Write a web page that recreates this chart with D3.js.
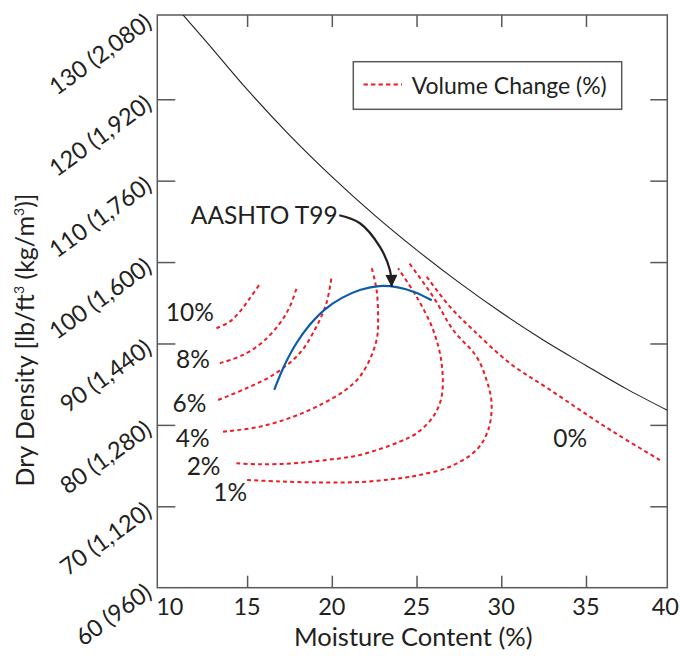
<!DOCTYPE html>
<html>
<head>
<meta charset="utf-8">
<script src="https://cdn.jsdelivr.net/npm/d3@7"></script>
<style>
  body { margin: 0; background: #fff; }
  svg text { font-family: Lato, "Open Sans", sans-serif; fill: #231f20; }
</style>
</head>
<body>
<svg id="chart" width="680" height="656"></svg>
<script>
// ---- axis ticks and labels ----
const moistureTicks = [10, 15, 20, 25, 30, 35, 40];
const densityTicks = [60, 70, 80, 90, 100, 110, 120, 130];
const densityTickLabels = ["60 (960)", "70 (1,120)", "80 (1,280)", "90 (1,440)",
  "100 (1,600)", "110 (1,760)", "120 (1,920)", "130 (2,080)"];

// ---- zero-air-voids line (moisture %, dry density lb/ft3) ----
const zavMoisture = [11.2, 12.5, 15, 17.5, 20, 22.5, 25, 27.5, 30, 32.5, 35, 37.5, 39.8];
const zavDensity  = [130.4, 127.3, 121.2, 115.6, 110.5, 105.8, 101.5, 97.5, 93.8, 90.4, 87.3, 84.3, 81.8];

// ---- AASHTO T99 compaction curve ----
const t99Moisture = [16.6, 17.2, 17.9, 18.7, 19.6, 20.6, 21.7, 22.8, 23.9, 24.9, 25.9];
const t99Density  = [84.3, 87.3, 90.0, 92.3, 94.2, 95.6, 96.6, 97.05, 96.9, 96.3, 95.3];

// ---- volume change contours: [moisture %, dry density] ----
const vc10 = [[13.19, 91.87], [13.98, 92.68], [14.57, 93.91], [15.16, 95.55], [15.71, 97.18]];
const vc8  = [[13.39, 87.57], [14.76, 88.59], [15.94, 90.22], [16.93, 92.48], [17.52, 94.52], [17.95, 96.98]];
const vc6  = [[13.29, 83.06], [14.96, 84.5], [16.53, 86.13], [18.10, 88.8], [19.09, 92.06], [19.68, 94.94], [19.98, 98.1]];
const vc4  = [[13.58, 79.16], [15.75, 79.78], [17.72, 81.0], [19.29, 82.44], [20.67, 84.08], [21.65, 85.92],
              [22.36, 88.6], [22.69, 91.0], [22.73, 93.3], [22.64, 96.6], [22.34, 99.4]];
const vc2  = [[14.37, 75.28], [15.75, 75.16], [17.72, 75.28], [19.69, 75.69], [21.65, 76.3], [24.01, 77.94],
              [25.0, 78.97], [25.98, 81.01], [26.48, 83.46], [26.48, 87.57], [25.98, 91.66], [25.0, 95.75], [23.91, 99.24]];
const vc1  = [[15.0, 73.23], [16.93, 73.05], [19.29, 72.92], [21.65, 72.98], [24.01, 73.44], [25.19, 73.85],
              [26.97, 74.86], [28.54, 76.92], [29.23, 79.37], [29.43, 82.65], [29.13, 85.52], [28.54, 88.38],
              [27.16, 91.66], [25.98, 95.75], [24.5, 100.05]];
const vc0  = [[25.6, 98.2], [26.97, 94.52], [28.34, 91.66], [30.51, 87.57], [32.87, 84.32], [35.82, 80.2],
              [37.4, 78.14], [39.36, 75.68]];

const contourNames = ["10%", "8%", "6%", "4%", "2%", "1%", "0%"];
const contours = [vc10, vc8, vc6, vc4, vc2, vc1, vc0];
// label anchor for each contour (moisture %, dry density)
const contourLabelAt = [[11.62, 92.78], [11.80, 86.93], [11.60, 81.6], [11.79, 77.3], [12.43, 73.84], [14.0, 70.6], [34.07, 77.3]];

// annotation arrow path (moisture %, dry density)
const arrowPath = [[20.44, 105.75], [21.66, 104.77], [22.84, 101.86], [23.43, 99.0], [23.53, 96.95]];
const aashtoLabelAt = [11.68, 104.7];

// ---- layout ----
const frame = { left: 157.3, right: 667.3, top: 15, bottom: 587.7 };
const ink = "#231f20", frameColor = "#58595b", red = "#ed1c24", blue = "#0b5cad";

const svg = d3.select("#chart");

const x = d3.scaleLinear().domain([9.7, 39.8]).range([frame.left, frame.right]);
const y = d3.scaleLinear().domain([60, 130.35]).range([frame.bottom, frame.top]);

svg.append("defs").append("clipPath").attr("id", "plot-clip")
  .append("rect")
  .attr("x", frame.left).attr("y", frame.top)
  .attr("width", frame.right - frame.left).attr("height", frame.bottom - frame.top);

// ticks (pointing inward on all four sides)
function styleAxis(g) {
  g.select(".domain").remove();
  g.selectAll(".tick line").attr("stroke", frameColor).attr("stroke-width", 1.5);
  g.selectAll(".tick text").remove();
}
const innerX = moistureTicks.slice(1, -1);
const innerY = densityTicks.slice(1, -1);
svg.append("g").attr("transform", `translate(0,${frame.bottom})`)
  .call(d3.axisBottom(x).tickValues(innerX).tickSize(-12)).call(styleAxis);
svg.append("g").attr("transform", `translate(0,${frame.top})`)
  .call(d3.axisTop(x).tickValues(innerX).tickSize(-12)).call(styleAxis);
svg.append("g").attr("transform", `translate(${frame.left},0)`)
  .call(d3.axisLeft(y).tickValues(innerY).tickSize(-18)).call(styleAxis);
svg.append("g").attr("transform", `translate(${frame.right},0)`)
  .call(d3.axisRight(y).tickValues(innerY).tickSize(-17)).call(styleAxis);

// frame
svg.append("rect")
  .attr("x", frame.left).attr("y", frame.top)
  .attr("width", frame.right - frame.left).attr("height", frame.bottom - frame.top)
  .attr("fill", "none").attr("stroke", frameColor).attr("stroke-width", 1.5);

// x tick labels; the end labels are pulled inside the frame
svg.append("g").selectAll("text").data(moistureTicks).join("text")
  .attr("x", d => {
    const px = x(d);
    if (d === moistureTicks[0]) return Math.max(px, frame.left + 12.5);
    if (d === moistureTicks[moistureTicks.length - 1]) return Math.min(px, frame.right - 2);
    return px;
  })
  .attr("y", frame.bottom + 27)
  .attr("text-anchor", "middle")
  .attr("font-size", 23.5)
  .text(d => d);

// y tick labels, slanted
svg.append("g").selectAll("text").data(densityTicks).join("text")
  .attr("transform", d => `translate(${frame.left - 4},${y(d) + 8}) rotate(-36)`)
  .attr("text-anchor", "end")
  .attr("font-size", 23.5)
  .text((d, i) => densityTickLabels[i]);

// axis titles
svg.append("text")
  .attr("x", (frame.left + frame.right) / 2 + 1).attr("y", 646)
  .attr("text-anchor", "middle").attr("font-size", 25.5)
  .text("Moisture Content (%)");

const yTitle = svg.append("text")
  .attr("transform", `translate(34,${340}) rotate(-90)`)
  .attr("text-anchor", "middle").attr("font-size", 25);
yTitle.append("tspan").text("Dry Density [lb/ft");
yTitle.append("tspan").attr("font-size", 14).attr("dy", -10).text("3");
yTitle.append("tspan").attr("dy", 10).text(" (kg/m");
yTitle.append("tspan").attr("font-size", 14).attr("dy", -10).text("3");
yTitle.append("tspan").attr("dy", 10).text(")]");

// plotted lines
const plot = svg.append("g").attr("clip-path", "url(#plot-clip)");

const zavLine = d3.line().x(d => x(d[0])).y(d => y(d[1])).curve(d3.curveMonotoneX);
plot.append("path")
  .datum(zavMoisture.map((m, i) => [m, zavDensity[i]]))
  .attr("d", zavLine)
  .attr("fill", "none").attr("stroke", ink).attr("stroke-width", 1.1);

const contourLine = d3.line().x(d => x(d[0])).y(d => y(d[1])).curve(d3.curveCatmullRom.alpha(0.5));
plot.selectAll(".vc").data(contours).join("path")
  .attr("class", "vc")
  .attr("d", contourLine)
  .attr("fill", "none").attr("stroke", red)
  .attr("stroke-width", 2).attr("stroke-dasharray", "4 3.2");

plot.append("path")
  .datum(t99Moisture.map((m, i) => [m, t99Density[i]]))
  .attr("d", d3.line().x(d => x(d[0])).y(d => y(d[1])).curve(d3.curveCatmullRom.alpha(0.5)))
  .attr("fill", "none").attr("stroke", blue).attr("stroke-width", 2.2);

// contour labels
svg.append("g").selectAll("text").data(contourNames).join("text")
  .attr("x", (d, i) => x(contourLabelAt[i][0]))
  .attr("y", (d, i) => y(contourLabelAt[i][1]))
  .attr("text-anchor", "middle").attr("font-size", 24.5)
  .text(d => d);

// AASHTO T99 annotation with arrow
svg.select("defs").append("marker")
  .attr("id", "arrowhead").attr("viewBox", "0 0 10 10")
  .attr("refX", 10).attr("refY", 5)
  .attr("markerWidth", 6).attr("markerHeight", 5.5)
  .attr("markerUnits", "strokeWidth").attr("orient", "auto")
  .append("path").attr("d", "M0,0 L10,5 L0,10 Z").attr("fill", ink);

svg.append("path")
  .datum(arrowPath)
  .attr("d", d3.line().x(d => x(d[0])).y(d => y(d[1])).curve(d3.curveCatmullRom.alpha(0.5)))
  .attr("fill", "none").attr("stroke", ink).attr("stroke-width", 2.2)
  .attr("marker-end", "url(#arrowhead)");

svg.append("text")
  .attr("x", x(aashtoLabelAt[0])).attr("y", y(aashtoLabelAt[1]))
  .attr("font-size", 24.5)
  .text("AASHTO T99");

// legend
const legend = svg.append("g");
legend.append("rect")
  .attr("x", 353.3).attr("y", 61.7).attr("width", 268.4).attr("height", 47.6)
  .attr("fill", "#fff").attr("stroke", frameColor).attr("stroke-width", 1.5);
legend.append("line")
  .attr("x1", 363.5).attr("x2", 402).attr("y1", 84.5).attr("y2", 84.5)
  .attr("stroke", red).attr("stroke-width", 2).attr("stroke-dasharray", "4.4 3.1");
legend.append("text")
  .attr("x", 411.7).attr("y", 93.5).attr("font-size", 23)
  .text("Volume Change (%)");
</script>
</body>
</html>
